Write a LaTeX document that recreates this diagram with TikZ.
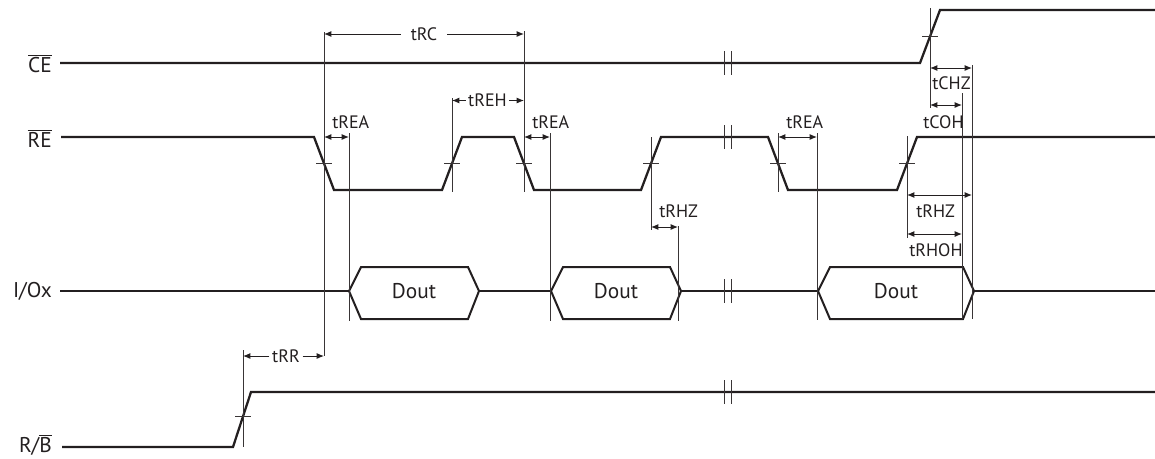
\documentclass[tikz,border=0pt]{standalone}
\usepackage{fontspec}
\setmainfont{PT Sans}
\usepackage{xcolor}
\usepackage{tikz}
\usetikzlibrary{arrows.meta}
\usetikzlibrary{calc}

\definecolor{ink}{RGB}{35,31,32}
\newcommand{\ovl}[1]{$\overline{\mbox{#1}}$}

\begin{document}
\begin{tikzpicture}[
    x=0.75pt, y=-0.75pt,
    sig/.style={line width=1.7pt, draw=ink},
    box/.style={line width=1.5pt, draw=ink},
    guide/.style={line width=0.75pt, draw=ink!90},
    dim/.style={line width=0.75pt, draw=ink, -{Latex[length=5.5pt,width=4.5pt]}},
    dimboth/.style={dim, {Latex[length=5.5pt,width=4.5pt]}-{Latex[length=5.5pt,width=4.5pt]}},
    signame/.style={font=\fontsize{16}{19}\selectfont, text=ink, inner sep=0pt, anchor=base east},
    tlbl/.style={font=\fontsize{13.5}{16}\selectfont, text=ink, inner sep=0pt, anchor=base west},
    doutlbl/.style={font=\fontsize{16}{19}\selectfont, text=ink, inner sep=0pt}
  ]

    \useasboundingbox (0,0) rectangle (1155,458);

    \node [signame] (ce) at (52,72) {\ovl{CE}};
    \node [signame] (re) at (52,147) {\ovl{RE}};
    \node [signame] (io) at (52,297) {I/Ox};
    \node [signame] (rb) at (52,452) {R/\ovl{B}};

    \draw [sig] (60,63) -- (920,63) -- (940,10) -- (1155,10);
    \draw [sig] (61,137) -- (314,137) -- (334,190) -- (442,190) -- (462,137)
    -- (514,137) -- (534,190) -- (641,190) -- (661,137) -- (768,137)
    -- (788,190) -- (897,190) -- (917,137) -- (1155,137);
    \draw [sig] (62,447) -- (233,447) -- (251,392) -- (1155,392);
    \draw [sig] (60,291) -- (349,291) (479,291) -- (551,291)
    (681,291) -- (818,291) (974,291) -- (1155,291);

    \foreach \a/\b [count=\n] in {349/479, 551/681, 818/974} {
      \draw [box] (\a,291) -- ({\a+12},267) -- ({\b-11},267) -- (\b,291)
      -- ({\b-11},319) -- ({\a+12},319) -- cycle;
      \node [doutlbl] (dout\n) at ({(\a+\b)/2},291) {Dout};
    }

    \foreach \c in {324,452,524,651,778,907}
      \draw [guide] ({\c-8},163.5) -- ({\c+8},163.5);
    \draw [guide] (922,36.5) -- (938,36.5);
    \draw [guide] (235,416) -- (251,416);

    \foreach \y in {63,137,291,392}
      \foreach \x in {724,731}
        \draw [guide] (\x,{\y-12}) -- (\x,{\y+12});

    \foreach \x/\ya/\yb in {324/32/356, 349/133/321, 452/98/192, 524/31/192,
      550/133/321, 651/137/230, 678/226/321, 778/133/192, 817/133/320,
      907/136/238, 930/8/108, 962/93/319, 972/65/319, 243/350/447}
      \draw [guide] (\x,\ya) -- (\x,\yb);

    \node [tlbl, anchor=center, inner xsep=7.5pt] (trc) at (424,34) {tRC};
    \draw [dim] (trc.west) -- (324,34);
    \draw [dim] (trc.east) -- (524,34);

    \node [tlbl, anchor=center, inner xsep=1.5pt] (treh) at (487.5,100.5) {tREH};
    \draw [dim] (treh.west) -- (452,100.5);
    \draw [dim] (treh.east) -- (524,100.5);

    \node [tlbl, anchor=center, inner xsep=2pt] (trr) at (286,356) {tRR};
    \draw [dim] (trr.west) -- (243,356);
    \draw [dim] (trr.east) -- (324,356);

    \foreach \xa/\xb/\y/\lx/\ly/\t [count=\i] in {
      324/349/137/332/128/tREA, 524/550/137/532/128/tREA,
      778/817/137/786/128/tREA, 651/678/227/659/217/tRHZ,
      930/972/68/932/89/tCHZ, 930/962/105/923/128/tCOH,
      907/972/195/916/217/tRHZ, 907/962/234/909/256/tRHOH} {
      \draw [dimboth] (\xa,\y) -- (\xb,\y);
      \node [tlbl] (tlbl\i) at (\lx,\ly) {\t};
    }

  \end{tikzpicture}
\end{document}
